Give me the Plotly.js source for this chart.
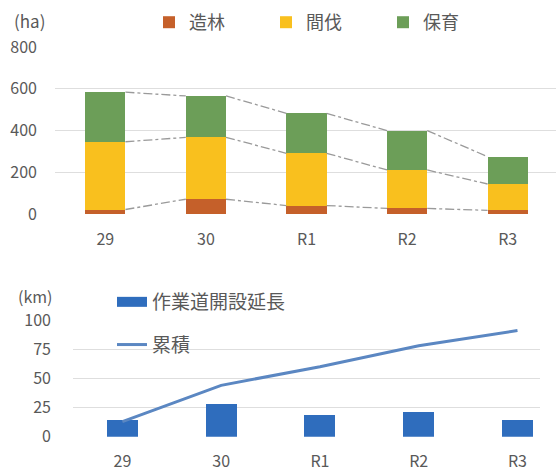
<!DOCTYPE html>
<html><head><meta charset="utf-8">
<script src="https://cdn.plot.ly/plotly-3.0.1.min.js"></script>
<style>html,body{margin:0;padding:0;background:#fff}#chart{width:556px;height:473px}</style>
</head><body><div id="chart"></div>
<script>
// ---- data ----
const years = ['29', '30', 'R1', 'R2', 'R3'];
const zourin = [23, 72, 42, 28, 19];        // 造林 (ha)
const kanbatsu = [324, 296, 250, 184, 126]; // 間伐 (ha)
const hoiku = [237, 198, 191, 188, 131];    // 保育 (ha)
const roadLen = [14, 28, 19, 21, 14];       // 作業道開設延長 (km)
const roadCum = [13, 44, 60, 78, 91];       // 累積 (km)

const FONT = '"Noto Sans CJK JP", "Noto Sans", sans-serif';
const TXT = '#595959';
const idx = years.map((_, i) => i);
const topBarW = 0.40, botBarW = 0.315;

// cumulative tops for series lines
const lvl1 = zourin;
const lvl2 = zourin.map((v, i) => v + kanbatsu[i]);
const lvl3 = lvl2.map((v, i) => v + hoiku[i]);
function seriesLine(vals) {
  const xs = [], ys = [];
  for (let i = 0; i < vals.length - 1; i++) {
    xs.push(i + topBarW / 2, i + 1 - topBarW / 2, null);
    ys.push(vals[i], vals[i + 1], null);
  }
  return {x: xs, y: ys, type: 'scatter', mode: 'lines', showlegend: false,
    hoverinfo: 'skip', line: {color: '#9a9a9a', width: 1.3, dash: 'dashdot'},
    xaxis: 'x', yaxis: 'y'};
}

const traces = [
  {x: idx, y: zourin, name: '造林', type: 'bar', width: topBarW, marker: {color: '#c5602a'}, xaxis: 'x', yaxis: 'y', legend: 'legend'},
  {x: idx, y: kanbatsu, name: '間伐', type: 'bar', width: topBarW, marker: {color: '#f9c01e'}, xaxis: 'x', yaxis: 'y', legend: 'legend'},
  {x: idx, y: hoiku, name: '保育', type: 'bar', width: topBarW, marker: {color: '#6c9e58'}, xaxis: 'x', yaxis: 'y', legend: 'legend'},
  seriesLine(lvl1), seriesLine(lvl2), seriesLine(lvl3),
  {x: idx, y: roadLen, name: '作業道開設延長', type: 'bar', width: botBarW, marker: {color: '#2f6dbd'},
    xaxis: 'x2', yaxis: 'y2', showlegend: false},
  {x: [null], y: [null], name: '作業道開設延長', type: 'scatter', mode: 'lines',
    line: {color: '#2f6dbd', width: 10}, xaxis: 'x2', yaxis: 'y2', legend: 'legend2', legendgroup: 'a'},
  {x: idx, y: roadCum, name: '累積', type: 'scatter', mode: 'lines', line: {color: '#5b87c2', width: 3},
    xaxis: 'x2', yaxis: 'y2', legend: 'legend2', legendgroup: 'b'}
];

const axCommon = {tickfont: {family: FONT, size: 16, color: TXT}, showline: false, ticks: '', zeroline: false, fixedrange: true};

const layout = {
  width: 556, height: 473, margin: {l: 0, r: 0, t: 0, b: 0, autoexpand: false},
  paper_bgcolor: '#fff', plot_bgcolor: '#fff',
  barmode: 'stack', font: {family: FONT, color: TXT},
  xaxis: Object.assign({}, axCommon, {domain: [55 / 556, 1], range: [-0.5, 4.48], tickvals: idx, ticktext: years,
    showgrid: false, ticklabelstandoff: 14, anchor: 'y'}),
  yaxis: Object.assign({}, axCommon, {domain: [0.5469, 0.9006], range: [0, 800], dtick: 200,
    gridcolor: '#dedede', gridwidth: 1, ticklabelstandoff: 17, anchor: 'x'}),
  xaxis2: Object.assign({}, axCommon, {domain: [73 / 556, 540 / 556], range: [-0.5, 4.228], tickvals: idx, ticktext: years,
    showgrid: false, ticklabelstandoff: 13, anchor: 'y2'}),
  yaxis2: Object.assign({}, axCommon, {domain: [0.0767, 0.3235], range: [0, 100], dtick: 25,
    gridcolor: '#dedede', gridwidth: 1, ticklabelstandoff: 21, anchor: 'x2'}),
  legend: {orientation: 'h', x: 0.268, y: 0.9524, xanchor: 'left', yanchor: 'middle',
    font: {family: FONT, size: 18, color: TXT}, entrywidth: 72, entrywidthmode: 'pixels',
    itemwidth: 30, bgcolor: 'rgba(0,0,0,0)', traceorder: 'normal'},
  legend2: {orientation: 'v', x: 0.2014, y: 0.4017, xanchor: 'left', yanchor: 'top',
    font: {family: FONT, size: 19, color: TXT}, tracegroupgap: 15, itemwidth: 30,
    bgcolor: 'rgba(0,0,0,0)', traceorder: 'grouped'},
  annotations: [
    {text: '(ha)', xref: 'paper', yref: 'paper', x: 29 / 556, y: 1 - 20 / 473, showarrow: false,
      font: {family: FONT, size: 17, color: TXT}, xanchor: 'center', yanchor: 'middle', borderpad: 0},
    {text: '(km)', xref: 'paper', yref: 'paper', x: 35 / 556, y: 1 - 296 / 473, showarrow: false,
      font: {family: FONT, size: 16, color: TXT}, xanchor: 'center', yanchor: 'middle', borderpad: 0}
  ]
};

Plotly.newPlot('chart', traces, layout, {staticPlot: true, displayModeBar: false});
</script></body></html>
